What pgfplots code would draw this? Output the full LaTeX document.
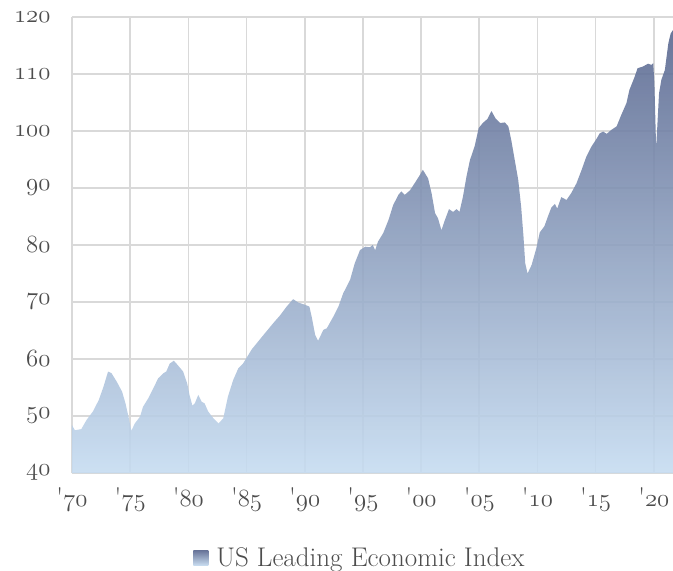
\documentclass[border=0pt]{standalone}
\usepackage{pgfplots}
\pgfplotsset{compat=1.18}
\definecolor{txt}{HTML}{4D4D4D}
\definecolor{gridc}{HTML}{D9D9D9}
\definecolor{topc}{HTML}{5A6890}
\definecolor{botc}{HTML}{C6DCF1}
\newcommand\osf[1]{{\usefont{OML}{lmm}{m}{it}#1}}
\newcommand\yr[1]{\textquotesingle\osf{#1}}
\pgfplotstableread{
x y
1970.0 40
1970.0 48.4
1970.25 47.5
1970.8 47.7
1971.25 49.3
1971.8 50.8
1972.3 52.8
1972.7 55.1
1973.1 57.8
1973.4 57.5
1973.85 56.0
1974.3 54.3
1974.6 52.2
1974.85 49.9
1975.1 47.4
1975.4 48.7
1975.85 49.9
1976.1 51.6
1976.55 53.1
1977.0 54.9
1977.4 56.6
1977.85 57.5
1978.1 57.8
1978.4 59.2
1978.75 59.7
1979.1 58.9
1979.55 57.8
1979.9 55.7
1980.1 53.7
1980.35 51.8
1980.55 52.2
1980.85 53.7
1981.15 52.5
1981.4 52.2
1981.7 50.8
1982.15 49.6
1982.6 48.7
1983.0 49.6
1983.4 53.4
1983.85 56.3
1984.3 58.4
1984.7 59.2
1985.15 60.7
1985.45 61.7
1986.45 64.2
1987.3 66.3
1987.9 67.7
1988.45 69.2
1989.0 70.5
1989.45 69.9
1989.9 69.6
1990.4 69.2
1990.6 67.4
1990.9 64.2
1991.15 63.2
1991.6 65.1
1991.9 65.4
1992.45 67.4
1992.9 69.2
1993.3 71.5
1993.9 73.9
1994.3 76.8
1994.75 79.1
1995.2 79.7
1995.6 79.6
1995.85 80.0
1996.05 79.1
1996.3 80.6
1996.75 82.1
1997.2 84.4
1997.6 87.0
1998.05 88.8
1998.3 89.4
1998.6 88.8
1999.05 89.6
1999.5 91.0
1999.9 92.3
2000.15 93.2
2000.6 91.7
2000.9 89.1
2001.2 85.6
2001.45 84.7
2001.75 82.6
2002.05 84.4
2002.4 86.3
2002.75 85.8
2003.05 86.3
2003.3 85.8
2003.6 88.5
2003.9 92.0
2004.2 94.9
2004.6 97.3
2004.95 100.5
2005.3 101.4
2005.7 102.1
2006.05 103.5
2006.4 102.2
2006.8 101.4
2007.2 101.5
2007.5 100.8
2007.75 98.4
2008.05 94.9
2008.35 91.4
2008.6 86.7
2008.8 81.5
2008.95 76.8
2009.15 75.0
2009.5 76.5
2009.9 79.4
2010.2 82.2
2010.6 83.3
2010.9 85.0
2011.2 86.6
2011.5 87.2
2011.7 86.4
2012.05 88.4
2012.5 87.9
2012.9 89.1
2013.35 90.8
2013.8 93.2
2014.2 95.5
2014.65 97.3
2015.1 98.7
2015.35 99.6
2015.65 99.9
2015.95 99.5
2016.35 100.2
2016.8 100.8
2017.2 102.8
2017.65 104.9
2017.9 107.2
2018.35 109.5
2018.6 111.0
2019.05 111.3
2019.5 111.8
2019.8 111.6
2019.95 111.9
2020.05 108.4
2020.15 100.8
2020.2 97.0
2020.3 100.8
2020.45 106.6
2020.65 109.0
2020.95 110.7
2021.25 115.4
2021.45 117.1
2021.65 117.7
2021.65 40
}\lei
\begin{document}
\begin{tikzpicture}
\path[use as bounding box] (-72bp,-98bp) rectangle (601bp,473bp);
\begin{axis}[
  at={(0,0)}, anchor=south west,
  scale only axis, width=601bp, height=456bp,
  xmin=1970, xmax=2021.65, ymin=40, ymax=120,
  xtick={1970,1975,...,2020},
  xticklabels={\yr{70},\yr{75},\yr{80},\yr{85},\yr{90},\yr{95},\yr{00},\yr{05},\yr{10},\yr{15},\yr{20}},
  ytick={40,50,...,120},
  yticklabels={\osf{40},\osf{50},\osf{60},\osf{70},\osf{80},\osf{90},\osf{100},\osf{110},\osf{120}},
  grid=major, major grid style={gridc, line width=1.6bp},
  axis x line*=bottom, axis y line*=left,
  axis line style={-, gridc, line width=1.6bp},
  major tick length=0pt, tick style={draw=none},
  tick label style={font=\fontsize{27bp}{31bp}\selectfont, text=txt},
  yticklabel style={xshift=-18bp},
  xticklabel style={yshift=-11bp},
  legend style={at={(0.479,-0.186)}, anchor=center, draw=none, fill=none,
    font=\fontsize{27bp}{31bp}\selectfont, text=txt},
  legend image code/.code={\shade[top color=topc, bottom color=botc] (0bp,-8bp) rectangle (15bp,7bp); \path (21bp,0bp);},
]
\addplot[draw=none, top color=topc, bottom color=botc, fill opacity=0.9] table[x=x,y=y] {\lei} -- cycle;
\addlegendentry{US Leading Economic Index}
\end{axis}
\end{tikzpicture}
\end{document}
